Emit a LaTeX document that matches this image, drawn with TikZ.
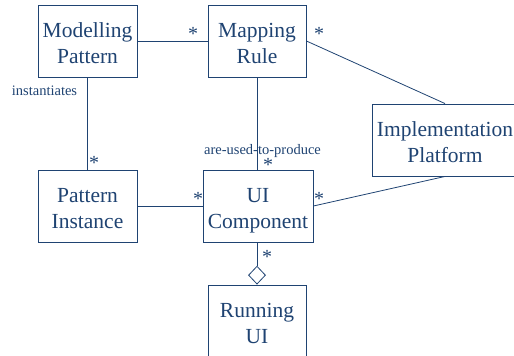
\documentclass[tikz,border=0pt]{standalone}
\usepackage{fontspec}
\setmainfont{Liberation Serif}
\usetikzlibrary{shapes.geometric}
\definecolor{umlblue}{HTML}{1F4372}
\tikzset{
  cls/.style={draw=umlblue, line width=0.9pt, fill=white, text=umlblue,
    align=center, inner sep=0pt, text height=46.5pt, text depth=1pt,
    font=\fontsize{21.5}{26}\selectfont},
  assoc/.style={draw=umlblue, line width=0.8pt},
  mult/.style={text=umlblue, inner sep=0pt, font=\fontsize{20}{24}\selectfont},
  role/.style={text=umlblue, inner sep=0pt, font=\fontsize{14.5}{17}\selectfont},
  agg/.style={diamond, draw=umlblue, line width=0.8pt, fill=white, inner sep=0pt,
    minimum width=17pt, minimum height=18pt}
}
\begin{document}
\begin{tikzpicture}[x=1pt, y=-1pt]
\useasboundingbox (0,0) rectangle (514,356);

% classes
\node[cls, minimum width=99pt, minimum height=72pt] (mp) at (87.5,41) {Modelling\\Pattern};
\node[cls, minimum width=98pt, minimum height=72pt] (mr) at (257,41) {Mapping\\Rule};
\node[cls, minimum width=146pt, minimum height=72pt] (ip) at (445,140) {Implementation\\Platform};
\node[cls, minimum width=99pt, minimum height=72pt] (pi) at (87.5,206) {Pattern\\Instance};
\node[cls, minimum width=110pt, minimum height=72pt] (ui) at (258,206) {UI\\Component};
\node[cls, minimum width=98pt, minimum height=72pt] (ru) at (257,321) {Running\\UI};
\node[agg, anchor=south] (dm) at (ru.north -| 257,0) {};

% associations
\draw[assoc] (mp.east) -- (mr.west);
\draw[assoc] (mp.south) -- (pi.north);
\draw[assoc] (mr.south) -- (mr.south |- ui.north);
\draw[assoc] (mr.east) -- (ip.north);
\draw[assoc] (ip.south) -- (ui.east);
\draw[assoc] (pi.east) -- (ui.west);
\draw[assoc] (ui.south -| dm.north) -- (dm.north);

% multiplicities
\node[mult] (m1) at (193,34) {*};
\node[mult] (m2) at (319,34) {*};
\node[mult] (m3) at (94,163) {*};
\node[mult] (m4) at (268,165) {*};
\node[mult] (m5) at (198,199) {*};
\node[mult] (m6) at (319,199) {*};
\node[mult] (m7) at (267,257) {*};

% role names
\node[role] (r1) at (44.5,90.5) {instantiates};
\node[role] (r2) at (262.5,151) {are-used-to-produce};
\end{tikzpicture}
\end{document}
